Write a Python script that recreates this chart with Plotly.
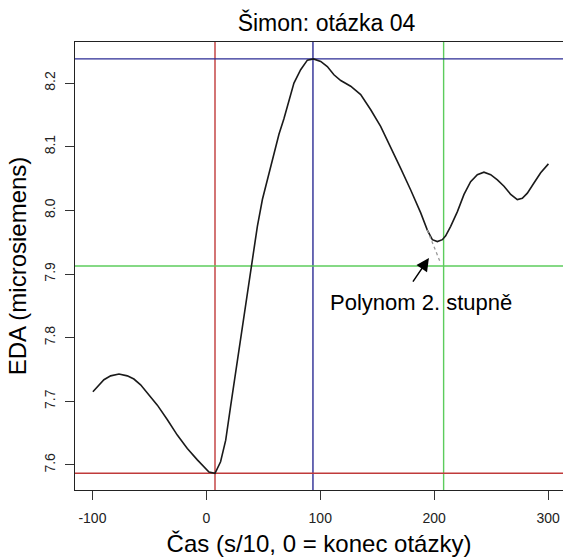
import plotly.graph_objects as go

# --- data ---
eda_x = [-99.6, -95.7, -89.9, -84.0, -76.7, -69.4, -63.6, -57.7, -51.8, -43.0, -34.2, -25.5,
         -16.7, -7.9, 2.3, 7.6, 12.5, 17.0, 21.3, 25.7, 30.1, 34.5, 38.9, 41.8, 44.8, 49.2,
         53.6, 57.9, 63.8, 68.1, 72.5, 76.9, 82.8, 88.7, 94.0, 100.4, 106.2, 112.0, 118.0,
         126.7, 135.5, 144.3, 153.0, 161.8, 170.6, 179.4, 188.2, 194.0, 198.4, 202.8, 207.2,
         210.1, 214.5, 220.4, 226.2, 232.0, 237.9, 243.7, 249.6, 255.5, 261.3, 267.2, 273.0,
         277.4, 281.8, 287.6, 293.5, 300.3]
eda_y = [7.715, 7.723, 7.734, 7.740, 7.743, 7.740, 7.735, 7.726, 7.713, 7.694, 7.671, 7.647,
         7.626, 7.608, 7.589, 7.587, 7.605, 7.639, 7.692, 7.744, 7.797, 7.849, 7.901, 7.933,
         7.975, 8.017, 8.048, 8.080, 8.120, 8.144, 8.174, 8.200, 8.221, 8.236, 8.238, 8.234,
         8.226, 8.213, 8.204, 8.195, 8.182, 8.158, 8.132, 8.100, 8.066, 8.032, 7.996, 7.969,
         7.954, 7.951, 7.954, 7.960, 7.975, 7.998, 8.025, 8.045, 8.056, 8.060, 8.056, 8.048,
         8.038, 8.025, 8.017, 8.019, 8.027, 8.043, 8.059, 8.073]

poly_x = [194.0, 197.0, 201.0, 205.7]
poly_y = [7.969, 7.956, 7.937, 7.917]

min_x, min_y = 7.6, 7.587      # red lines
max_x, max_y = 93.6, 8.238     # blue lines
ref_x, ref_y = 208.3, 7.9126   # green lines

x_ticks = [-100, 0, 100, 200, 300]
x_tick_labels = ["-100", "0", "100", "200", "300"]
y_ticks = [7.6, 7.7, 7.8, 7.9, 8.0, 8.1, 8.2]
y_tick_labels = ["7.6", "7.7", "7.8", "7.9", "8.0", "8.1", "8.2"]

title_text = "Šimon: otázka 04"
x_title = "Čas (s/10, 0 = konec otázky)"
y_title = "EDA (microsiemens)"
note_text = "Polynom 2. stupně"

FONT = "Liberation Sans, Arial, sans-serif"
RED, BLUE, GREEN = "#c03a3a", "#2b2b94", "#5ccc5c"

fig = go.Figure()
fig.add_trace(go.Scatter(x=eda_x, y=eda_y, mode="lines",
                         line=dict(color="#1a1a1a", width=1.6), showlegend=False))
fig.add_trace(go.Scatter(x=poly_x, y=poly_y, mode="lines",
                         line=dict(color="#9a9a9a", width=1.3, dash="dot"), showlegend=False))

for xv, c in [(min_x, RED), (max_x, BLUE), (ref_x, GREEN)]:
    fig.add_vline(x=xv, line=dict(color=c, width=1.4), layer="below")
for yv, c in [(min_y, RED), (max_y, BLUE), (ref_y, GREEN)]:
    fig.add_hline(y=yv, line=dict(color=c, width=1.4), layer="below")

# arrow + label
fig.add_annotation(x=195.4, y=7.925, ax=-17, ay=25, xref="x", yref="y",
                   axref="pixel", ayref="pixel", text="", showarrow=True,
                   arrowhead=2, arrowsize=1.7, arrowwidth=1.5, arrowcolor="black")
fig.add_annotation(x=188.6, y=7.856, xref="x", yref="y", text=note_text,
                   showarrow=False, font=dict(family=FONT, size=22, color="black"))

fig.update_layout(
    width=563, height=557,
    margin=dict(l=75, r=0, t=42, b=67),
    paper_bgcolor="white", plot_bgcolor="white",
    title=dict(text=title_text, x=0.58, xanchor="center", y=0.958, yanchor="middle",
               font=dict(family=FONT, size=23, color="black")),
    font=dict(family=FONT, color="#222"),
)
fig.update_xaxes(range=[-115.3, 313.1], tickvals=x_ticks, ticktext=x_tick_labels,
                 ticks="outside", ticklen=9, ticklabelstandoff=6,
                 tickcolor="#333", showgrid=False, zeroline=False,
                 showline=True, linecolor="#222", linewidth=1.3, mirror=True,
                 tickfont=dict(family=FONT, size=14, color="#222"),
                 title=dict(text=x_title, font=dict(family=FONT, size=24, color="black"), standoff=10))
fig.update_yaxes(range=[7.5607, 8.2645], tickvals=y_ticks, ticktext=y_tick_labels,
                 ticks="outside", ticklen=9, tickcolor="#333", tickangle=-90, ticklabelstandoff=4,
                 showgrid=False, zeroline=False,
                 showline=True, linecolor="#222", linewidth=1.3, mirror=True,
                 tickfont=dict(family=FONT, size=14, color="#222"),
                 title=dict(text=y_title, font=dict(family=FONT, size=24, color="black"), standoff=8))

fig.write_html("out.html")
